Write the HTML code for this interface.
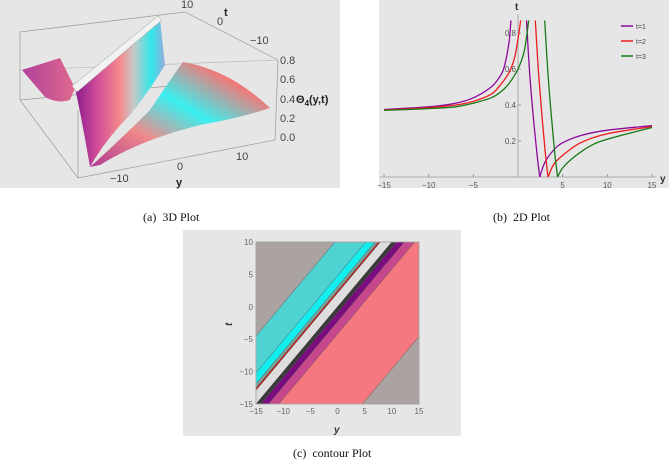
<!DOCTYPE html>
<html><head><meta charset="utf-8">
<style>
html,body{margin:0;padding:0;overflow:hidden}
body{width:669px;height:466px;background:#fff;position:relative;overflow:hidden;font-family:"Liberation Sans",sans-serif}
.cap{position:absolute;font-family:"Liberation Serif",serif;font-size:12px;line-height:13px;height:13px;color:#111;white-space:nowrap}
svg{position:absolute;left:0;top:0;overflow:hidden;display:block}
</style></head><body>
<svg width="669" height="466">
<defs>
<linearGradient id="wallg" x1="0" y1="0" x2="1" y2="0">
<stop offset="0" stop-color="#8a1a8c"/><stop offset="0.25" stop-color="#d24c9a"/><stop offset="0.5" stop-color="#f48a8a"/><stop offset="0.65" stop-color="#c8c8c8"/><stop offset="0.85" stop-color="#30e8e8"/><stop offset="1" stop-color="#9ad"/>
</linearGradient>
<linearGradient id="surfg" x1="0" y1="1" x2="1" y2="0">
<stop offset="0" stop-color="#b03a90"/><stop offset="0.3" stop-color="#f08a8a"/><stop offset="0.55" stop-color="#3af0f0"/><stop offset="0.8" stop-color="#f07a7a"/><stop offset="1" stop-color="#ff2020"/>
</linearGradient>
<linearGradient id="leftg" x1="0" y1="0" x2="1" y2="0">
<stop offset="0" stop-color="#b0409a"/><stop offset="1" stop-color="#e06a8e"/>
</linearGradient>
</defs>

<g>
<rect x="0" y="0" width="340" height="188" fill="#e6e6e6"/>
<g stroke="#999" stroke-width="0.7" fill="none">
<polyline points="20,32 185,12 278,60"/>
<polyline points="20,32 20,100 78,178 275,140 278,60"/>
<line x1="20" y1="100" x2="180" y2="85"/>
<line x1="78" y1="178" x2="78" y2="110"/>
<line x1="20" y1="70" x2="278" y2="60" stroke="#bbb"/>
</g>
<path d="M22,70 L60,58 L75,88 L70,100 Q58,104 45,97 Z" fill="url(#leftg)"/>
<path d="M90,167 Q120,140 150,110 Q170,80 183,62 Q230,70 270,108 Q240,118 200,125 Q140,140 100,165 Z" fill="url(#surfg)"/>
<path d="M75,88 L160,19 L165,65 Q150,90 130,115 Q105,140 90,167 Q82,120 75,88 Z" fill="url(#wallg)"/>
<path d="M72,86 L158,16 L162,20 L77,92 Z" fill="#f2f2f2" stroke="#999" stroke-width="0.5"/>
<g font-size="11" fill="#444">
<text x="181" y="8">10</text><text x="217" y="25">0</text><text x="250" y="44">−10</text>
<text x="224" y="16" font-weight="bold" fill="#222">t</text>
<text x="280" y="64">0.8</text><text x="280" y="83">0.6</text><text x="280" y="103">0.4</text><text x="280" y="122">0.2</text><text x="280" y="141">0.0</text>
<text x="296" y="103" font-weight="bold" fill="#222">Θ<tspan font-size="8" dy="3">4</tspan><tspan dy="-3">(y,t)</tspan></text>
<text x="110" y="182">−10</text><text x="177" y="170">0</text><text x="236" y="160">10</text>
<text x="176" y="186" font-weight="bold" fill="#222">y</text>
</g>
</g>

<g>
<rect x="379" y="0" width="290" height="188" fill="#e6e6e6"/>
<g id="g2d"></g>
</g>

<g>
<rect x="183" y="230" width="278" height="206" fill="#e6e6e6"/>
<g id="gc"></g>
<rect x="256" y="242" width="163" height="162" fill="none" stroke="#aaa" stroke-width="0.8"/>
<g id="gcax"></g>
<text x="232" y="326" font-size="10" font-weight="bold" font-style="italic" fill="#333" transform="rotate(-90 232 326)">t</text>
<text x="334" y="433" font-size="10" font-weight="bold" font-style="italic" fill="#333">y</text>
</g>
</svg>
<div class="cap" style="left:143px;top:211px">(a)&nbsp; 3D Plot</div>
<div class="cap" style="left:493px;top:211px">(b)&nbsp; 2D Plot</div>
<div class="cap" style="left:293px;top:447px">(c)&nbsp; contour Plot</div>
<script>
const NS="http://www.w3.org/2000/svg";
const xTicks2=[-15,-10,-5,5,10,15];
const yTicks2=[0.2,0.4,0.6,0.8];
const seriesNames=["t=1","t=2","t=3"];
const seriesColors=["#8b0a9a","#ee1c1c","#177a17"];
const t1LeftX=[-15,-10,-7,-5,-3,-2,-1.5,-1,-0.8];
const t1LeftY=[0.375,0.39,0.41,0.44,0.50,0.56,0.62,0.75,0.87];
const t2LeftX=[-15,-10,-7,-5,-3,-2,-1,-0.3,0.3];
const t2LeftY=[0.372,0.385,0.40,0.42,0.46,0.51,0.58,0.68,0.87];
const t3LeftX=[-15,-10,-7,-5,-3,-2,-1,0,0.7,1.2];
const t3LeftY=[0.37,0.38,0.39,0.41,0.44,0.47,0.52,0.6,0.7,0.87];
const t1RightX=[0.95,1.3,1.7,2.1,2.43,3,4,5,7,10,15];
const t1RightY=[0.87,0.58,0.34,0.14,0,0.08,0.15,0.19,0.23,0.26,0.285];
const t2RightX=[1.94,2.3,2.7,3.05,3.36,4,5,7,10,15];
const t2RightY=[0.87,0.58,0.33,0.14,0,0.07,0.12,0.19,0.24,0.28];
const t3RightX=[2.99,3.35,3.75,4.1,4.44,5,6,8,10,15];
const t3RightY=[0.87,0.58,0.33,0.14,0,0.05,0.1,0.17,0.21,0.275];
const X2=v=>518+v*8.93, Y2=v=>177-v*180;
const g2=document.getElementById("g2d");
function mk(tag,attrs,parent){const e=document.createElementNS(NS,tag);for(const k in attrs)e.setAttribute(k,attrs[k]);parent.appendChild(e);return e;}
let ax=mk("line",{x1:X2(-15.5),y1:Y2(0),x2:X2(15.5),y2:Y2(0),stroke:"#999","stroke-width":0.8},g2);


let ay=mk("line",{x1:X2(0),y1:Y2(0),x2:X2(0),y2:14,stroke:"#999","stroke-width":0.8},g2);


xTicks2.forEach(v=>{const t=mk("text",{x:X2(v),y:Y2(0)+11,"font-size":8,fill:"#555","text-anchor":"middle"},g2);t.textContent=v<0?"−"+(-v):v;


mk("line",{x1:X2(v),y1:Y2(0),x2:X2(v),y2:Y2(0)-3,stroke:"#999"},g2);});
yTicks2.forEach(v=>{const t=mk("text",{x:X2(0)-2,y:Y2(v)+3,"font-size":8,fill:"#555","text-anchor":"end"},g2);t.textContent=v.toFixed(1);


mk("line",{x1:X2(0),y1:Y2(v),x2:X2(0)+3,y2:Y2(v),stroke:"#999"},g2);});
let tl=mk("text",{x:515,y:10,"font-size":10,"font-weight":"bold",fill:"#333"},g2);tl.textContent="t";


let yl=mk("text",{x:660,y:182,"font-size":10,"font-weight":"bold",fill:"#333"},g2);yl.textContent="y";


function pathOf(xs,ys){
 const P=xs.map((x,i)=>[X2(x),Y2(ys[i])]);
 let d="M"+P[0][0].toFixed(1)+","+P[0][1].toFixed(1);
 for(let i=0;i<P.length-1;i++){
  const p0=P[Math.max(0,i-1)],p1=P[i],p2=P[i+1],p3=P[Math.min(P.length-1,i+2)];
  const c1=[p1[0]+(p2[0]-p0[0])/6,p1[1]+(p2[1]-p0[1])/6];
  const c2=[p2[0]-(p3[0]-p1[0])/6,p2[1]-(p3[1]-p1[1])/6];
  d+=" C"+c1.map(v=>v.toFixed(1)).join(",")+" "+c2.map(v=>v.toFixed(1)).join(",")+" "+p2[0].toFixed(1)+","+p2[1].toFixed(1);
 }
 return d;
}
const branches=[[t1LeftX,t1LeftY,t1RightX,t1RightY],[t2LeftX,t2LeftY,t2RightX,t2RightY],[t3LeftX,t3LeftY,t3RightX,t3RightY]];
branches.forEach((b,i)=>{
 const p1=mk("path",{d:pathOf(b[0],b[1]),fill:"none",stroke:seriesColors[i],"stroke-width":1.3},g2);
 
 
 const p2=mk("path",{d:pathOf(b[2].slice(0,5),b[3].slice(0,5)),fill:"none",stroke:seriesColors[i],"stroke-width":1.3},g2);
 
 
 const p3=mk("path",{d:pathOf(b[2].slice(4),b[3].slice(4)),fill:"none",stroke:seriesColors[i],"stroke-width":1.3},g2);
 
 
 const ly=26+i*15;
 const ll=mk("line",{x1:621,y1:ly,x2:633,y2:ly,stroke:seriesColors[i],"stroke-width":1.5},g2);
 
 
 const lt=mk("text",{x:636,y:ly+3,"font-size":7,fill:"#444"},g2);lt.textContent=seriesNames[i];
 
 
});
const bandLower=[-40,-10.5,-4.8,-3.1,-2.45,-2.1,0,0.9,2.3,4.2,19.6];
const bandUpper=[-10.5,-4.8,-3.1,-2.45,-2.1,0,0.9,2.3,4.2,19.6,40];
const bandColors=["#aba3a2","#4fd2d2","#12eeee","#7aa39c","#d01818","#dedede","#3a3a3a","#7b0c80","#c6478c","#f5777f","#aba3a2"];
const cTicks=[-15,-10,-5,0,5,10,15];
const tTicks=[10,5,0,-5,-10,-15];
const XC=v=>256+(v+15)*163/30, YC=v=>404-(v+15)*162/25;
// clip polygon (data coords) by half-plane f(p)>=0
function clipHalf(poly,f){
 const out=[];
 for(let i=0;i<poly.length;i++){
  const a=poly[i],b=poly[(i+1)%poly.length],fa=f(a),fb=f(b);
  if(fa>=0)out.push(a);
  if((fa>=0)!==(fb>=0)){const s=fa/(fa-fb);out.push([a[0]+s*(b[0]-a[0]),a[1]+s*(b[1]-a[1])]);}
 }
 return out;
}
const gc=document.getElementById("gc");
bandLower.forEach((lo,i)=>{
 const hi=bandUpper[i];
 let poly=[[-15,-15],[15,-15],[15,10],[-15,10]];
 poly=clipHalf(poly,p=>(p[0]-p[1])-lo);
 poly=clipHalf(poly,p=>hi-(p[0]-p[1]));
 if(poly.length<3)return;
 const p=mk("polygon",{points:poly.map(q=>XC(q[0]).toFixed(1)+","+YC(q[1]).toFixed(1)).join(" "),fill:bandColors[i],stroke:"#555","stroke-width":0.4},gc);
 
 
});
const gcax=document.getElementById("gcax");
cTicks.forEach(v=>{const t=mk("text",{x:XC(v),y:414,"font-size":8,fill:"#666","text-anchor":"middle"},gcax);t.textContent=v<0?"−"+(-v):v;

});
tTicks.forEach(v=>{const t=mk("text",{x:253,y:YC(v)+3,"font-size":8,fill:"#666","text-anchor":"end"},gcax);t.textContent=v<0?"−"+(-v):v;

});
</script>
</body></html>
